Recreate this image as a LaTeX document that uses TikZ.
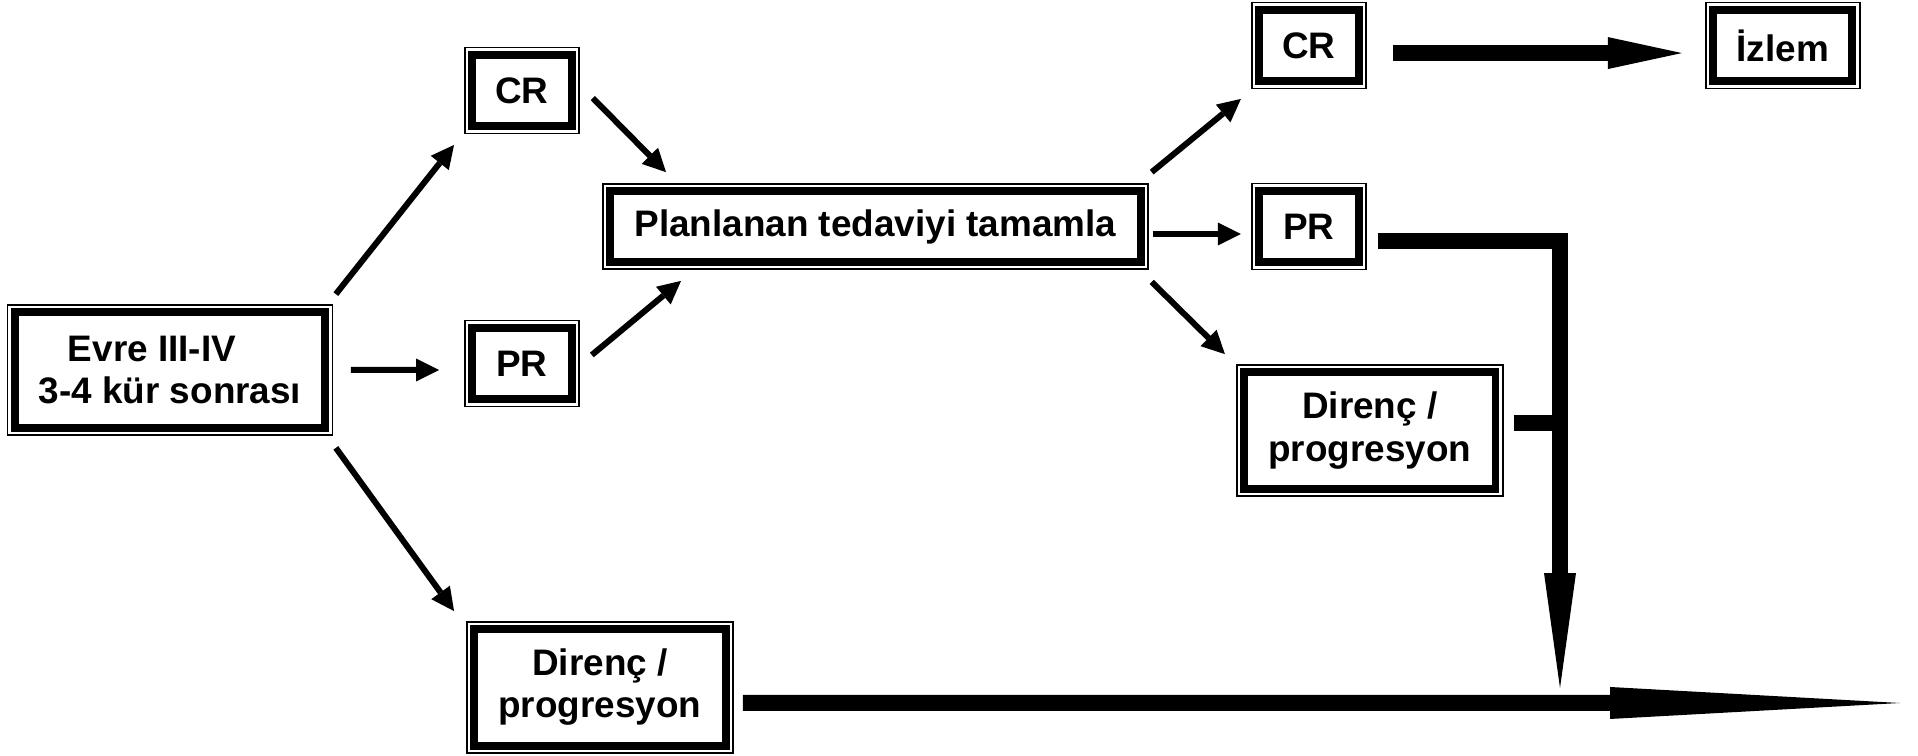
\documentclass[tikz,border=0pt]{standalone}
\usepackage{fontspec}
\setmainfont{Liberation Sans}
\usepackage{tikz}
\usetikzlibrary{arrows,arrows.meta,positioning,calc}
\tikzset{box/.style={draw,line width=1pt,inner sep=0pt,align=center,
  font=\bfseries\fontsize{21pt}{24pt}\selectfont,
  minimum width=2.28cm,minimum height=1.72cm,
  path picture={\draw[line width=0.16cm] ([shift={(0.145cm,-0.145cm)}]path picture bounding box.north west) rectangle ([shift={(-0.145cm,0.145cm)}]path picture bounding box.south east);}}}
\tikzstyle{arr}=[->,line width=0.12cm]
\tikzstyle{bigarr}=[line width=0.32cm,line join=miter]

\begin{document}
\begin{tikzpicture}[x=0.02cm,y=-0.02cm,>={Triangle[line width=0pt,length=0.46cm,width=0.46cm]}]
    \useasboundingbox (0,0) rectangle (1918,756);
    \node (evre) at (170,370) [box,minimum width=6.5cm,minimum height=2.6cm] {Evre III-IV\hspace*{0.72cm}\\3-4 kür sonrası};
    \node (pr1) [box,right of=evre,node distance=7.04cm,yshift=0.13cm] {PR};
    \node (cr1) [box,above of=pr1,node distance=5.46cm] {CR};
    \node (dir1) [box,below of=pr1,node distance=6.48cm,xshift=1.56cm,minimum width=5.32cm,minimum height=2.62cm] {Direnç /\\progresyon};
    \node (plan) [box,right of=pr1,node distance=7.07cm,yshift=2.74cm,minimum width=10.9cm,minimum height=1.7cm] {Planlanan tedaviyi tamamla};
    \node (pr2) [box,right of=plan,node distance=8.67cm] {PR};
    \node (cr2) [box,above of=pr2,node distance=3.62cm] {CR};
    \node (dir2) [box,below of=pr2,node distance=4.08cm,xshift=1.22cm,minimum width=5.32cm,minimum height=2.62cm] {Direnç /\\progresyon};
    \node (izlem) [box,right of=cr2,node distance=9.48cm,minimum width=3.08cm] {İzlem};
    \coordinate (merge) at (1560,688);
    \coordinate (end) at (1900,703);
    \coordinate (stub) at ([shift={(10,-7.5)}]dir2.east);
    \draw[arr] ([shift={(2.5,-10)}]evre.north east) -- ([shift={(-10,10.5)}]cr1.south west);
    \draw[arr] ([shift={(17.5,0)}]evre.east) -- ([shift={(-25,6.5)}]pr1.west);
    \draw[arr] ([shift={(2.5,12)}]evre.south east) -- ([shift={(-12,-10)}]dir1.north west);
    \draw[arr] ([shift={(13,7.5)}]cr1.east) -- ([shift={(64,-11)}]plan.north west);
    \draw[arr] ([shift={(12,-8.5)}]pr1.east) -- ([shift={(79,11)}]plan.south west);
    \draw[arr] ([shift={(3,-11)}]plan.north east) -- ([shift={(-10,9.5)}]cr2.south west);
    \draw[arr] ([shift={(4,7.5)}]plan.east) -- ([shift={(-10,7.5)}]pr2.west);
    \draw[arr] ([shift={(3,12)}]plan.south east) -- ([shift={(-11,-10)}]dir2.north west);
    \draw[bigarr,-{Triangle[line width=0pt,length=1.48cm,width=0.64cm]}] ([shift={(26,7.5)}]cr2.east) -- ([shift={(-23,7.5)}]izlem.west);
    \draw[bigarr,-{Triangle[line width=0pt,length=2.3cm,width=0.64cm]}] ([shift={(11,14.5)}]pr2.east) -| (merge);
    \draw[bigarr] (stub) -- (stub -| merge);
    \draw[bigarr,-{Triangle[line width=0pt,length=5.8cm,width=0.64cm]}] ([shift={(9,15.5)}]dir1.east) -- (end);
\end{tikzpicture}
\end{document}
